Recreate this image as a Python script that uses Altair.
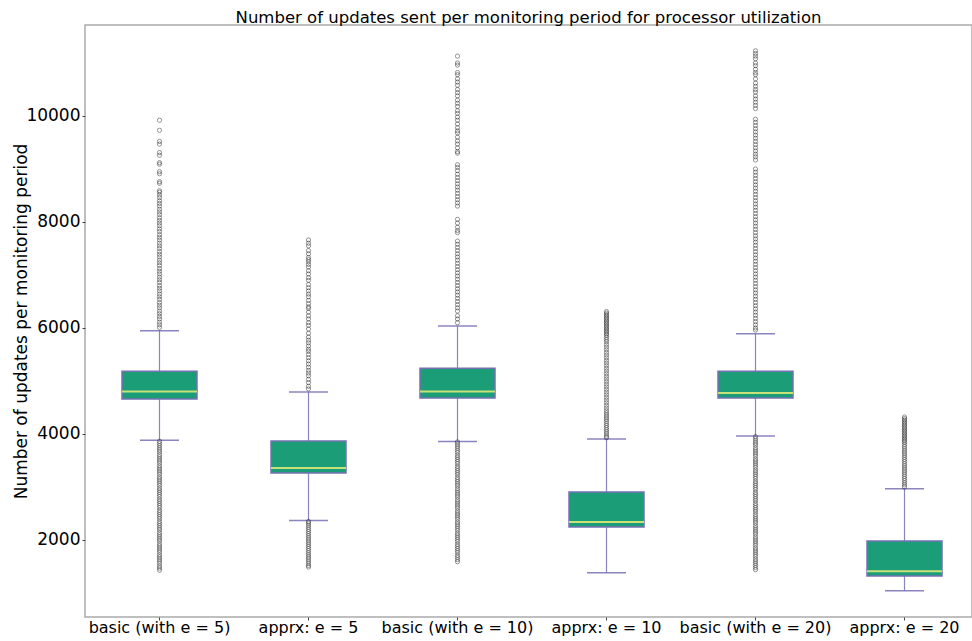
import altair as alt
import pandas as pd

categories = ["basic (with e = 5)", "apprx: e = 5", "basic (with e = 10)",
              "apprx: e = 10", "basic (with e = 20)", "apprx: e = 20"]
whisker_low = [3880, 2370, 3860, 1380, 3960, 1040]
q1 = [4660, 3265, 4680, 2245, 4680, 1320]
median = [4800, 3360, 4800, 2340, 4775, 1410]
q3 = [5185, 3870, 5240, 2905, 5185, 1980]
whisker_high = [5950, 4790, 6040, 3905, 5890, 2965]

out_basic5 = [9920, 9730, 9520, 9470, 9310, 9260, 9120, 9090, 8950, 8910, 8760, 8730,
              8590, 8560, 8510, 8460, 8400, 8350, 8300, 8240, 8190, 8140, 8080, 8030,
              7980, 7930, 7870, 7820, 7760, 7710, 7660, 7600, 7550, 7500, 7440, 7390,
              7340, 7280, 7230, 7180, 7120, 7070, 7020, 6960, 6910, 6860, 6800, 6750,
              6700, 6640, 6590, 6540, 6480, 6430, 6380, 6320, 6270, 6220, 6170, 6110,
              6060, 6010,
              3860, 3820, 3780, 3740, 3700, 3660, 3610, 3570, 3530, 3490, 3450, 3400,
              3360, 3320, 3280, 3240, 3190, 3150, 3110, 3070, 3030, 2980, 2940, 2900,
              2860, 2820, 2770, 2730, 2690, 2650, 2610, 2560, 2520, 2480, 2440, 2400,
              2350, 2310, 2270, 2230, 2190, 2140, 2100, 2060, 2020, 1980, 1930, 1890,
              1850, 1810, 1770, 1720, 1680, 1640, 1600, 1560, 1510, 1470, 1430]
out_apprx5 = [7660, 7600, 7550, 7460, 7400, 7330, 7290, 7250, 7200, 7150, 7080, 7020,
              6950, 6900, 6820, 6760, 6700, 6640, 6590, 6520, 6460, 6400, 6370, 6300,
              6230, 6170, 6100, 6050, 5980, 5900, 5830, 5770, 5720, 5660, 5600, 5560,
              5500, 5440, 5380, 5320, 5260, 5200, 5150, 5100, 5030, 4970, 4900, 4850,
              2350, 2320, 2280, 2240, 2200, 2160, 2120, 2080, 2040, 2000, 1960, 1920,
              1880, 1840, 1800, 1760, 1720, 1680, 1640, 1600, 1560, 1520, 1490]
out_basic10 = [11130, 11000, 10960, 10820, 10780, 10700, 10640, 10580, 10500, 10440,
               10380, 10300, 10240, 10180, 10100, 10050, 9980, 9920, 9850, 9780, 9720,
               9680, 9600, 9530, 9470, 9400, 9330, 9300, 9080, 9030, 8970, 8900, 8840,
               8780, 8720, 8660, 8600, 8540, 8480, 8420, 8360, 8300, 8050, 7980, 7900,
               7840, 7800, 7640, 7580, 7520, 7460, 7400, 7340, 7280, 7220, 7160, 7100,
               7040, 6980, 6920, 6860, 6800, 6740, 6680, 6620, 6560, 6500, 6440, 6380,
               6320, 6230, 6170, 6100,
               3850, 3810, 3770, 3730, 3690, 3650, 3600, 3560, 3520, 3480, 3440, 3390,
               3350, 3310, 3270, 3230, 3180, 3140, 3100, 3060, 3020, 2970, 2930, 2890,
               2850, 2810, 2760, 2720, 2680, 2640, 2600, 2550, 2510, 2470, 2430, 2390,
               2340, 2300, 2260, 2220, 2180, 2130, 2090, 2050, 2010, 1970, 1920, 1880,
               1840, 1800, 1760, 1710, 1670, 1630, 1590]
out_apprx10 = [6310, 6280, 6250, 6220, 6190, 6160, 6130, 6100, 6070, 6040, 6010, 5980,
               5950, 5920, 5890, 5860, 5820, 5780, 5740, 5690, 5640, 5590, 5540, 5490,
               5440, 5390, 5340, 5290, 5240, 5190, 5140, 5090, 5040, 4990, 4940, 4890,
               4840, 4790, 4740, 4690, 4640, 4590, 4540, 4490, 4440, 4400, 4360, 4320,
               4280, 4240, 4200, 4160, 4120, 4080, 4040, 4000, 3960, 3930]
out_basic20 = [11230, 11180, 11130, 11080, 11000, 10950, 10880, 10820, 10780, 10700,
               10620, 10560, 10500, 10450, 10380, 10320, 10260, 10200, 10140, 9940, 9880,
               9820, 9760, 9700, 9640, 9580, 9520, 9460, 9400, 9340, 9280, 9230, 9170,
               9000, 8940, 8880, 8820, 8760, 8700, 8640, 8580, 8520, 8460, 8400, 8340,
               8280, 8220, 8160, 8100, 8040, 7980, 7920, 7860, 7800, 7740, 7680, 7620,
               7560, 7500, 7440, 7380, 7320, 7260, 7200, 7140, 7080, 7020, 6960, 6900,
               6840, 6780, 6720, 6660, 6600, 6540, 6480, 6420, 6360, 6300, 6240, 6180,
               6120, 6060, 6000, 5960,
               3950, 3910, 3870, 3830, 3790, 3740, 3700, 3660, 3620, 3580, 3530, 3490,
               3450, 3410, 3370, 3320, 3280, 3240, 3200, 3160, 3110, 3070, 3030, 2990,
               2950, 2900, 2860, 2820, 2780, 2740, 2690, 2650, 2610, 2570, 2530, 2480,
               2440, 2400, 2360, 2320, 2270, 2230, 2190, 2150, 2110, 2060, 2020, 1980,
               1940, 1900, 1850, 1810, 1770, 1730, 1690, 1640, 1600, 1560, 1520, 1480,
               1440]
out_apprx20 = [4320, 4290, 4260, 4230, 4200, 4170, 4140, 4110, 4080, 4050, 4020, 3990,
               3960, 3930, 3900, 3870, 3840, 3800, 3760, 3720, 3680, 3640, 3600, 3560,
               3520, 3480, 3440, 3400, 3360, 3320, 3280, 3240, 3200, 3160, 3120, 3080,
               3040, 3000]

outlier_lists = [out_basic5, out_apprx5, out_basic10, out_apprx10, out_basic20, out_apprx20]

box_df = pd.DataFrame({
    "cat": categories, "wlo": whisker_low, "q1": q1, "med": median,
    "q3": q3, "whi": whisker_high,
})
out_df = pd.DataFrame(
    [{"cat": c, "v": v} for c, lst in zip(categories, outlier_lists) for v in lst]
)

GREEN = "#1b9e77"
PURPLE = "#7570b3"
MED = "#c8e27a"

x_enc = alt.X("cat:N", sort=categories, title=None,
              scale=alt.Scale(paddingInner=0, paddingOuter=0, range=[0, 894]),
              axis=alt.Axis(labelAngle=0, labelFontSize=16, tickSize=3,
                            labelPadding=-1, labelColor="black", tickColor="#444",
                            domain=False))
yscale = alt.Scale(domain=[547, 11717], nice=False, zero=False)
y_axis = alt.Axis(values=[2000, 4000, 6000, 8000, 10000], grid=False, tickSize=3,
                  format="d",
                  labelFontSize=17, labelColor="black", tickColor="#444",
                  domain=False, labelPadding=2,
                  title="Number of updates per monitoring period",
                  titleFontSize=17, titleFontWeight="normal", titleColor="black",
                  titlePadding=-5)

base = alt.Chart(box_df)
low_whisker = base.mark_rule(color=PURPLE, strokeWidth=1.2, opacity=0.85).encode(
    x=x_enc, y=alt.Y("wlo:Q", scale=yscale, axis=y_axis), y2="q1:Q")
high_whisker = base.mark_rule(color=PURPLE, strokeWidth=1.2, opacity=0.85).encode(
    x=alt.X("cat:N", sort=categories), y=alt.Y("q3:Q"), y2="whi:Q")
box = base.mark_bar(size=75, fill=GREEN, stroke=PURPLE, strokeWidth=1.5, opacity=1).encode(
    x=alt.X("cat:N", sort=categories), y=alt.Y("q1:Q"), y2="q3:Q")
med = base.mark_tick(size=75, thickness=2, color=MED, opacity=1).encode(
    x=alt.X("cat:N", sort=categories), y=alt.Y("med:Q"))
cap_lo = base.mark_tick(size=39, thickness=1.5, color=PURPLE, opacity=0.85).encode(
    x=alt.X("cat:N", sort=categories), y=alt.Y("wlo:Q"))
cap_hi = base.mark_tick(size=39, thickness=1.5, color=PURPLE, opacity=0.85).encode(
    x=alt.X("cat:N", sort=categories), y=alt.Y("whi:Q"))
points = alt.Chart(out_df).mark_point(shape="circle", filled=False, size=18,
                                      stroke="black", strokeWidth=0.75,
                                      opacity=0.55).encode(
    x=alt.X("cat:N", sort=categories), y=alt.Y("v:Q"))

chart = alt.layer(low_whisker, high_whisker, box, med, cap_lo, cap_hi, points).properties(
    width=887, height=592,
    title=alt.TitleParams("Number of updates sent per monitoring period for processor utilization",
                          fontSize=16.5, fontWeight="normal", color="black", offset=-1,
                          anchor="middle"),
    padding={"left": 85, "top": 25, "right": 0, "bottom": 24},
    autosize=alt.AutoSizeParams(type="none"),
).configure(font="DejaVu Sans").configure_view(
    stroke="#aaaaaa", strokeWidth=1.5
)

chart.save("out.html", embed_options={"renderer": "svg", "actions": False})
